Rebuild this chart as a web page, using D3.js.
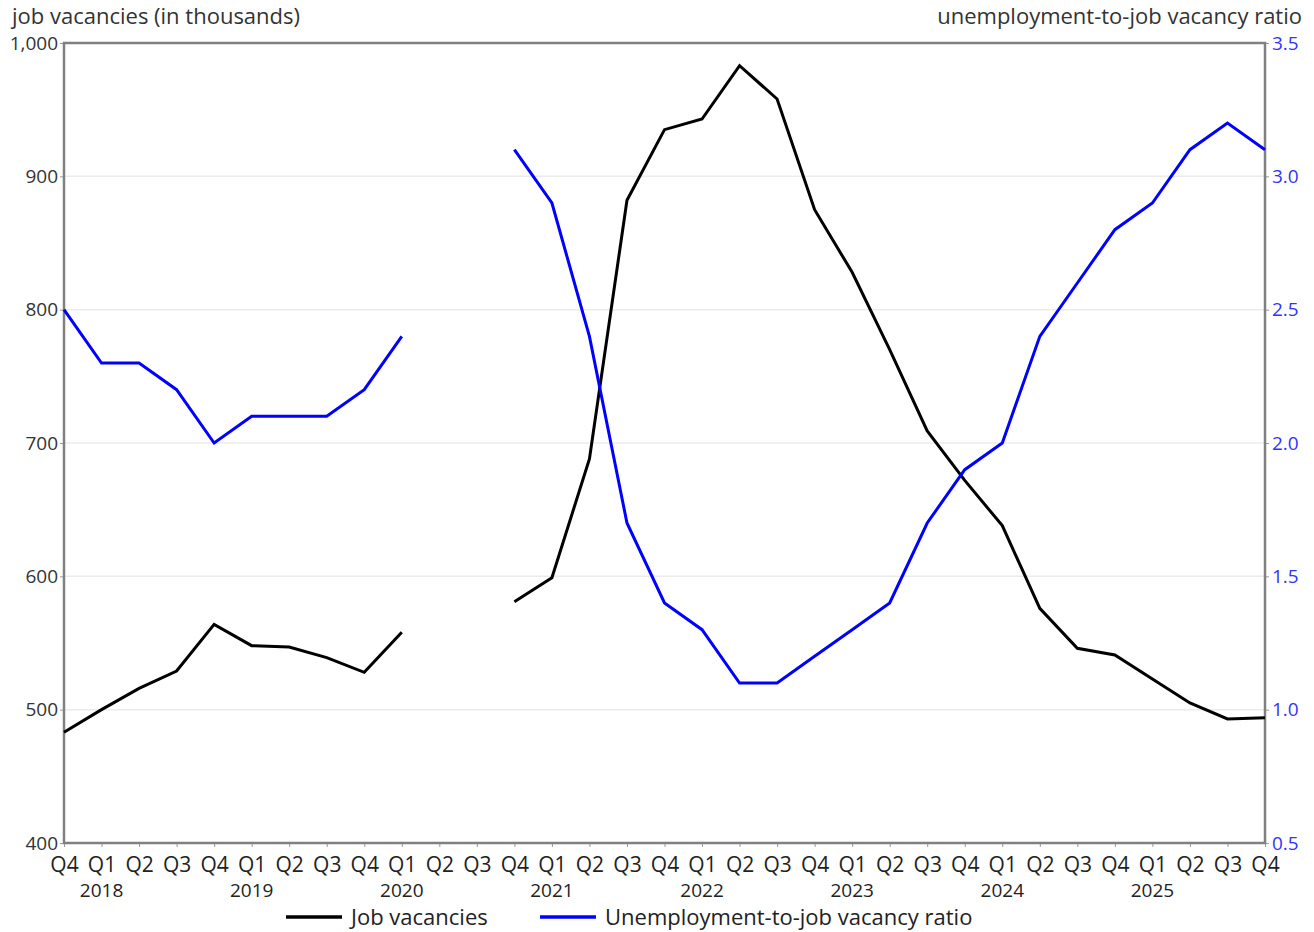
<!DOCTYPE html>
<html>
<head>
<meta charset="utf-8">
<script src="https://cdn.jsdelivr.net/npm/d3@7"></script>
<style>
  body { margin: 0; background: #fff; }
  text { font-family: "Open Sans", sans-serif; }
</style>
</head>
<body>
<svg id="chart"></svg>
<script>
// quarters from Q4 2017 to Q4 2025
const quarters = ["Q4","Q1","Q2","Q3","Q4","Q1","Q2","Q3","Q4","Q1","Q2","Q3","Q4",
  "Q1","Q2","Q3","Q4","Q1","Q2","Q3","Q4","Q1","Q2","Q3","Q4","Q1","Q2","Q3","Q4",
  "Q1","Q2","Q3","Q4"];
const yearLabels = ["2018","2019","2020","2021","2022","2023","2024","2025"];
// job vacancies, thousands (gap Q2-Q3 2020)
const vacancies = [483,500,516,529,564,548,547,539,528,558,null,null,581,599,688,882,
  935,943,983,958,875,828,770,709,672,638,576,546,541,523,505,493,494];
// unemployment-to-job vacancy ratio
const ratio = [2.5,2.3,2.3,2.2,2.0,2.1,2.1,2.1,2.2,2.4,null,null,3.1,2.9,2.4,1.7,
  1.4,1.3,1.1,1.1,1.2,1.3,1.4,1.7,1.9,2.0,2.4,2.6,2.8,2.9,3.1,3.2,3.1];
const leftTicks = [400,500,600,700,800,900,1000];
const rightTicks = [0.5,1.0,1.5,2.0,2.5,3.0,3.5];

const width = 1314, height = 932;
const margin = {top: 43, bottom: 89, left: 64, right: 49};

const svg = d3.select("#chart").attr("width", width).attr("height", height);

const x = d3.scaleLinear()
  .domain([0, quarters.length - 1])
  .range([margin.left, width - margin.right]);

const yL = d3.scaleLinear().domain([400, 1000]).range([height - margin.bottom, margin.top]);
const yR = d3.scaleLinear().domain([0.5, 3.5]).range([height - margin.bottom, margin.top]);

// gridlines
svg.append("g").selectAll("line")
  .data(leftTicks.slice(1, -1))
  .enter().append("line")
  .attr("x1", margin.left).attr("x2", width - margin.right)
  .attr("y1", d => yL(d)).attr("y2", d => yL(d))
  .attr("stroke", "#ececec").attr("stroke-width", 1.5);

// left axis
const axL = svg.append("g")
  .attr("transform", `translate(${margin.left},0)`)
  .call(d3.axisLeft(yL).tickValues(leftTicks).tickFormat(d3.format(",")).tickSize(4).tickPadding(2));
axL.select(".domain").remove();
axL.selectAll("line").attr("stroke", "#999");
axL.selectAll("text").attr("font-size", 19).attr("fill", "#333");

// right axis
const axR = svg.append("g")
  .attr("transform", `translate(${width - margin.right},0)`)
  .call(d3.axisRight(yR).tickValues(rightTicks).tickFormat(d3.format(".1f")).tickSize(4).tickPadding(3));
axR.select(".domain").remove();
axR.selectAll("line").attr("stroke", "#999");
axR.selectAll("text").attr("font-size", 19).attr("fill", "#3333ff");

// bottom axis
const axB = svg.append("g")
  .attr("transform", `translate(0,${height - margin.bottom})`)
  .call(d3.axisBottom(x).tickValues(d3.range(quarters.length)).tickFormat(i => quarters[i]).tickSize(4).tickPadding(10));
axB.select(".domain").remove();
axB.selectAll("line").attr("stroke", "#999");
axB.selectAll("text").attr("font-size", 21).attr("fill", "#222");

// year labels under each Q1
svg.append("g").selectAll("text")
  .data(yearLabels)
  .enter().append("text")
  .attr("x", (d, i) => x(1 + i * 4))
  .attr("y", 897)
  .attr("text-anchor", "middle")
  .attr("font-size", 19)
  .attr("fill", "#222")
  .text(d => d);

// frame
svg.append("rect")
  .attr("x", margin.left).attr("y", margin.top)
  .attr("width", width - margin.left - margin.right)
  .attr("height", height - margin.top - margin.bottom)
  .attr("fill", "none").attr("stroke", "#808080").attr("stroke-width", 2.5);

// lines
const lineL = d3.line().defined(d => d != null).x((d, i) => x(i)).y(d => yL(d));
const lineR = d3.line().defined(d => d != null).x((d, i) => x(i)).y(d => yR(d));

svg.append("path").datum(vacancies)
  .attr("d", lineL).attr("fill", "none").attr("stroke", "#000").attr("stroke-width", 3);
svg.append("path").datum(ratio)
  .attr("d", lineR).attr("fill", "none").attr("stroke", "#0000ff").attr("stroke-width", 3);

// axis titles
svg.append("text").attr("x", 12).attr("y", 24)
  .attr("font-size", 22).attr("fill", "#333").text("job vacancies (in thousands)");
svg.append("text").attr("x", 1302).attr("y", 24).attr("text-anchor", "end")
  .attr("font-size", 22).attr("fill", "#333").text("unemployment-to-job vacancy ratio");

// legend
const legendItems = [
  {name: "Job vacancies", color: "#000", x: 286},
  {name: "Unemployment-to-job vacancy ratio", color: "#0000ff", x: 540}
];
const legend = svg.append("g");
legendItems.forEach(item => {
  legend.append("line")
    .attr("x1", item.x).attr("x2", item.x + 56)
    .attr("y1", 917).attr("y2", 917)
    .attr("stroke", item.color).attr("stroke-width", 3.5);
  legend.append("text")
    .attr("x", item.x + 65).attr("y", 925)
    .attr("font-size", 22).attr("fill", "#222")
    .text(item.name);
});
</script>
</body>
</html>
